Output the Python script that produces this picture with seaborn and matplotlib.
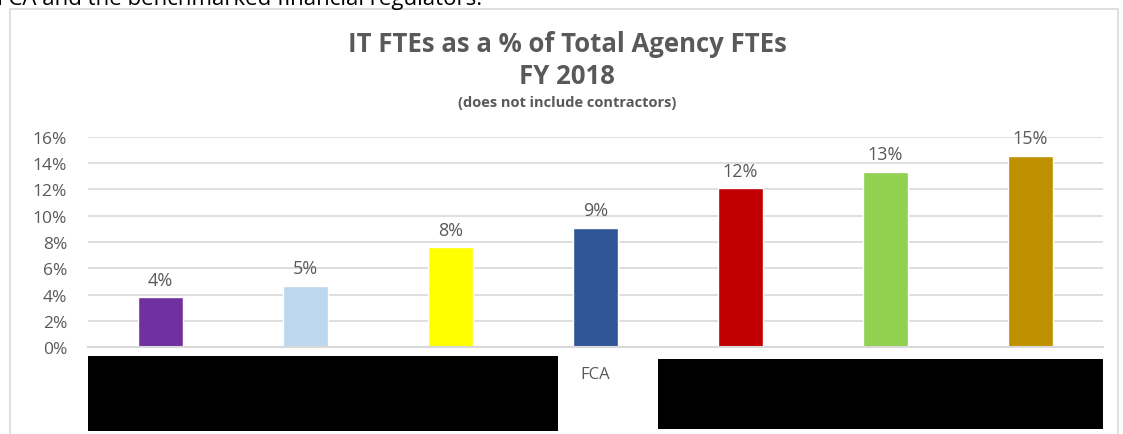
import numpy as np
import pandas as pd
import seaborn as sns
import matplotlib.pyplot as plt
from matplotlib.patches import Rectangle

# data (agency names are redacted except FCA)
agencies = ["Agency 1", "Agency 2", "Agency 3", "FCA", "Agency 5", "Agency 6", "Agency 7"]
it_fte_pct = [3.8, 4.65, 7.6, 9.1, 12.1, 13.35, 14.55]
bar_labels = ["4%", "5%", "8%", "9%", "12%", "13%", "15%"]
bar_colors = ["#7030a0", "#bdd7ee", "#ffff00", "#2f5597", "#c00000", "#92d050", "#bf9000"]
y_ticks = [0, 2, 4, 6, 8, 10, 12, 14, 16]

df = pd.DataFrame({"agency": agencies, "pct": it_fte_pct})

sns.set_theme(style="white")
plt.rcParams["font.family"] = ["Open Sans", "DejaVu Sans"]
grey = "#595959"

W, H = 1123, 435
fig = plt.figure(figsize=(W / 100, H / 100), dpi=100)
# axes box in pixel terms: x 88..1103, y 138(16%)..348(0%)
ax = fig.add_axes([88 / W, 1 - 348 / H, (1103 - 88) / W, (348 - 138) / H])

sns.barplot(data=df, x="agency", y="pct", hue="agency", palette=bar_colors,
            width=0.31, legend=False, ax=ax, saturation=1)

ax.set_ylim(0, 16)
ax.set_xlim(-0.5, len(agencies) - 0.5)
ax.set_yticks(y_ticks)
ax.set_yticklabels([f"{t}%" for t in y_ticks], color=grey, fontsize=12.5)
ax.yaxis.grid(True, color="#d9d9d9", lw=1.2, zorder=0)
ax.set_axisbelow(True)
ax.tick_params(axis="y", length=0, pad=15)
ax.tick_params(axis="x", length=0, pad=14, labelsize=12, labelcolor=grey)
for s in ["top", "right", "left"]:
    ax.spines[s].set_visible(False)
ax.spines["bottom"].set_color("#d9d9d9")
ax.spines["bottom"].set_linewidth(1.5)
ax.set_xlabel("")
ax.set_ylabel("")

for i, (v, lab) in enumerate(zip(it_fte_pct, bar_labels)):
    ax.text(i, v + 0.65, lab, ha="center", va="bottom", color=grey, fontsize=13)

# titles
fig.text(567 / W, 1 - 44 / H, "IT FTEs as a % of Total Agency FTEs", ha="center", va="center",
         fontsize=18.5, fontweight="bold", color=grey)
fig.text(567 / W, 1 - 76 / H, "FY 2018", ha="center", va="center",
         fontsize=18.5, fontweight="bold", color=grey)
fig.text(567 / W, 1 - 103 / H, "(does not include contractors)", ha="center", va="center",
         fontsize=10.5, fontweight="bold", color=grey)

# clipped line of body text above the chart
fig.text(-3 / W, 1 + 1 / H, "FCA and the benchmarked financial regulators.", ha="left", va="center",
         fontsize=16, color="black")

# chart frame
fig.patches.append(Rectangle((10 / W, -0.05), (1118 - 10) / W, 1 - 10 / H + 0.05,
                             transform=fig.transFigure, fill=False, edgecolor="#d9d9d9", lw=1.2))

# redaction boxes over the category labels
fig.patches.append(Rectangle((88 / W, 1 - 432 / H), (558 - 88) / W, (432 - 357) / H,
                             transform=fig.transFigure, facecolor="black", edgecolor="none", zorder=10))
fig.patches.append(Rectangle((658 / W, 1 - 430 / H), (1103 - 658) / W, (430 - 360) / H,
                             transform=fig.transFigure, facecolor="black", edgecolor="none", zorder=10))

fig.savefig("out.png", dpi=100)
